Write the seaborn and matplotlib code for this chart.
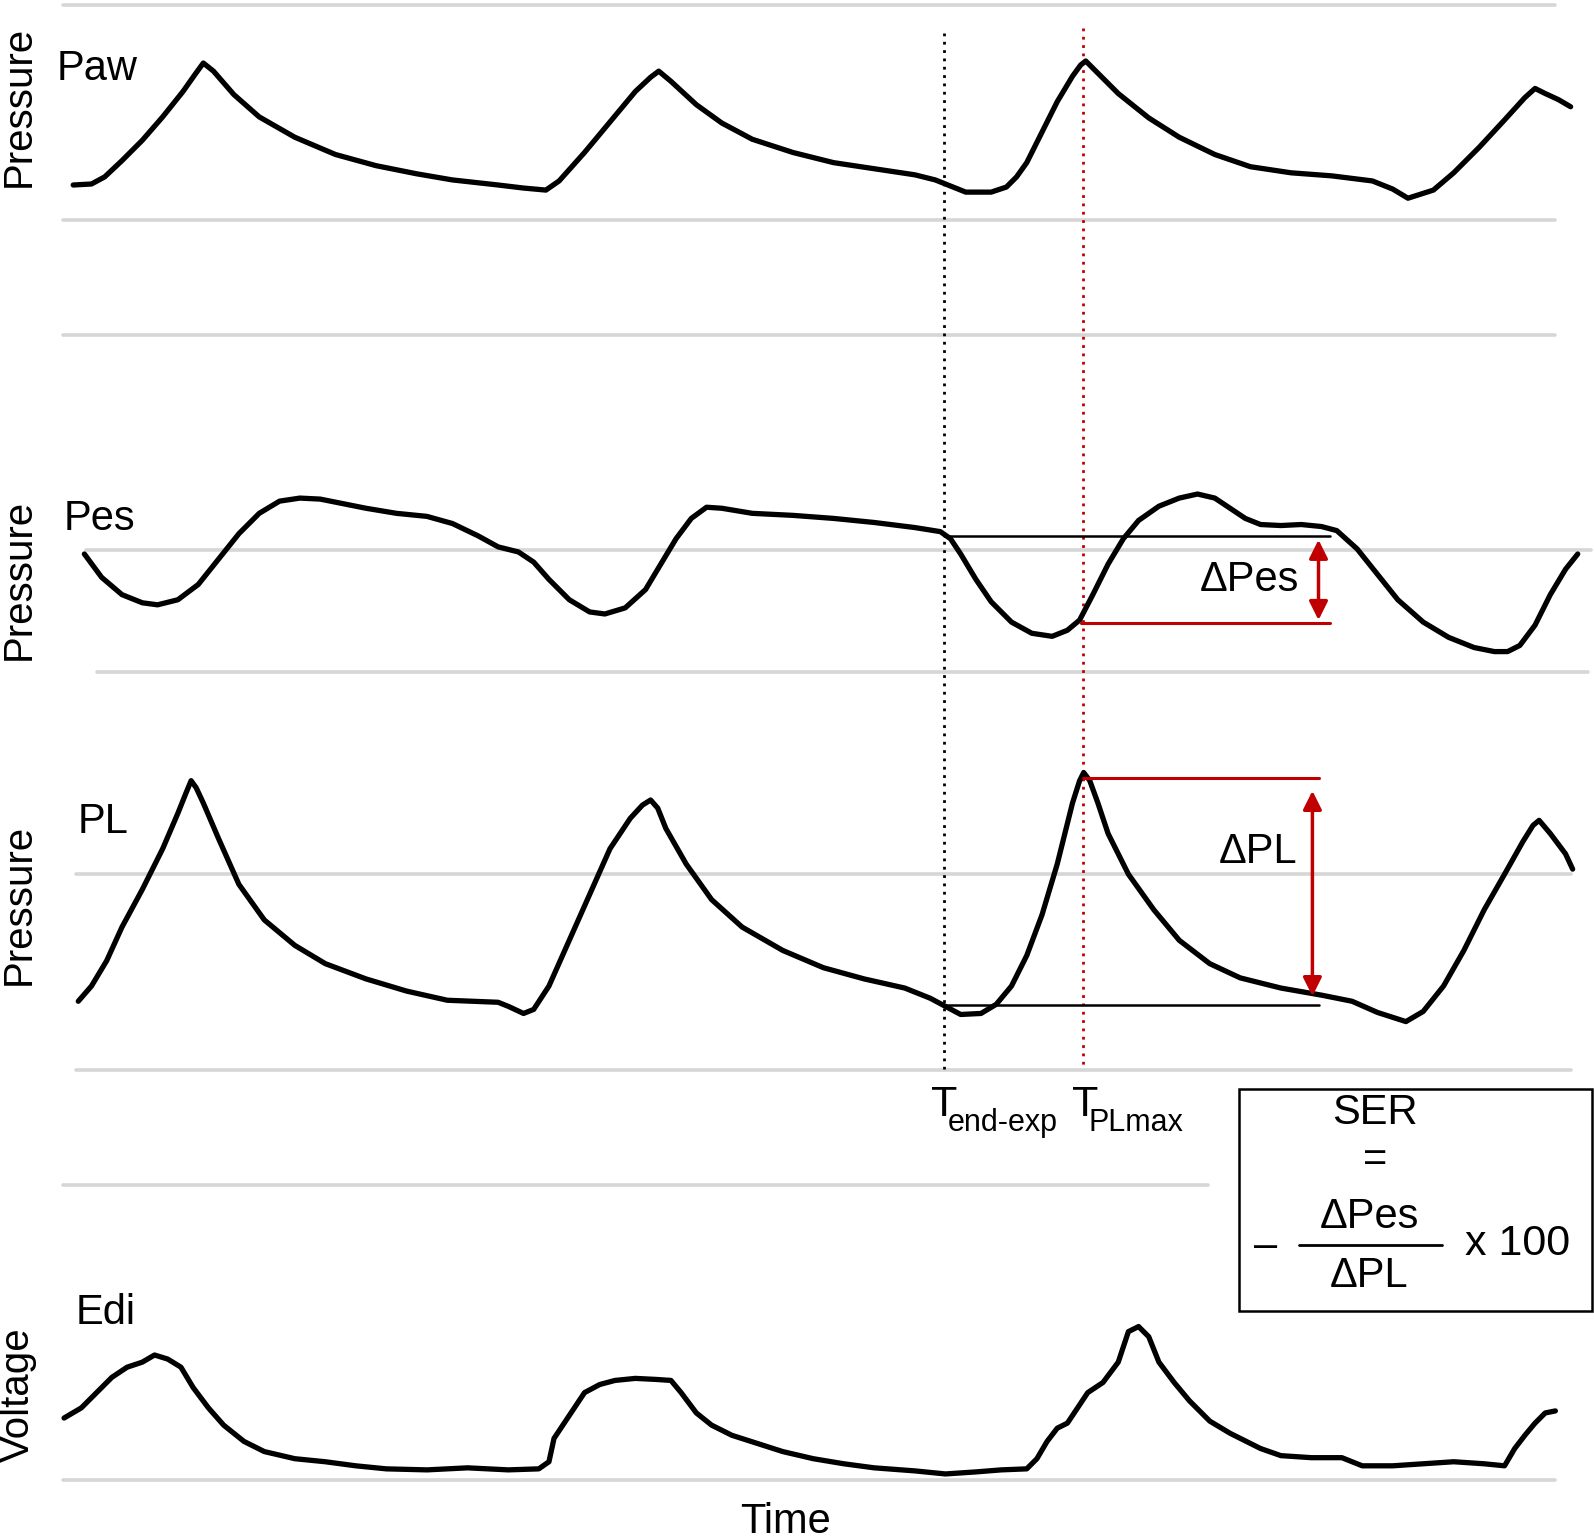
import matplotlib
matplotlib.use("Agg")
import matplotlib.pyplot as plt
import seaborn as sns
import pandas as pd

# waveform samples (time, value in drawing units; y grows downward)
paw_t = [72, 90, 103, 120, 140, 160, 180, 192, 200, 210, 230, 255, 290, 330, 370, 410, 445, 490, 515,
         537, 550, 575, 600, 625, 640, 648, 660, 685, 710, 740, 780, 820, 860, 900, 920, 935, 950,
         975, 990, 1000, 1010, 1025, 1040, 1055, 1063, 1068, 1080, 1100, 1130, 1160, 1195, 1230,
         1270, 1310, 1350, 1370, 1385, 1410, 1430, 1455, 1480, 1500, 1510, 1520, 1533, 1545]
paw_v = [182, 181, 174, 158, 138, 115, 90, 73, 62, 70, 93, 115, 135, 152, 163, 171, 177, 182, 185,
         187, 178, 150, 120, 90, 76, 70, 80, 103, 121, 137, 150, 160, 166, 172, 177, 183, 189,
         189, 184, 174, 160, 130, 100, 75, 64, 60, 72, 92, 116, 135, 152, 164,
         170, 173, 178, 186, 195, 187, 170, 145, 118, 96, 87, 92, 98, 105]

pes_t = [83, 100, 120, 140, 155, 175, 195, 215, 235, 255, 275, 295, 315, 335, 360, 390, 420, 445, 470,
         490, 510, 525, 540, 560, 580, 595, 615, 635, 650, 665, 680, 695, 710, 740, 780, 820, 860,
         900, 925, 935, 945, 960, 975, 995, 1015, 1035, 1050, 1062, 1075, 1090, 1105, 1120, 1140,
         1160, 1178, 1195, 1210, 1225, 1240, 1260, 1280, 1300, 1315, 1335, 1355, 1375, 1400, 1425,
         1450, 1470, 1483, 1495, 1510, 1525, 1540, 1552]
pes_v = [545, 568, 585, 593, 595, 590, 575, 550, 525, 505, 493, 490, 491, 495, 500, 505, 508, 515, 527,
         538, 543, 553, 570, 590, 602, 604, 598, 580, 555, 530, 510, 499, 500, 505, 507, 510, 514,
         519, 523, 530, 545, 570, 592, 612, 623, 626, 620, 610, 585, 555, 530, 512, 498,
         490, 486, 490, 500, 510, 516, 517, 516, 518, 522, 540, 565, 590, 612, 627,
         637, 641, 641, 635, 615, 585, 560, 545]

pl_t = [77, 90, 105, 120, 140, 160, 175, 183, 188, 193, 200, 215, 235, 260, 290, 320, 360, 400, 440,
        490, 500, 515, 525, 540, 560, 580, 600, 620, 632, 640, 647, 655, 675, 700, 730, 770, 810,
        850, 890, 915, 930, 945, 965, 980, 995, 1010, 1025, 1040, 1055, 1062, 1066, 1072, 1080,
        1090, 1110, 1135, 1160, 1190, 1220, 1260, 1300, 1330, 1355, 1383, 1400, 1420, 1440, 1460,
        1480, 1498, 1508, 1514, 1525, 1540, 1547]
pl_v = [985, 970, 945, 912, 875, 835, 800, 780, 768, 775, 790, 825, 870, 905, 930, 948, 963, 975, 984,
        986, 990, 997, 993, 970, 925, 880, 835, 805, 792, 787, 795, 815, 850, 885, 912, 935, 952,
        963, 972, 982, 990, 998, 997, 988, 970, 940, 900, 850, 790, 768, 760, 768, 790,
        820, 860, 895, 925, 948, 962, 972, 979, 985, 996, 1005, 995, 970, 935, 895,
        860, 828, 812, 807, 820, 840, 855]

edi_t = [63, 80, 95, 110, 125, 140, 152, 165, 178, 190, 205, 220, 240, 260, 290, 320, 350, 380, 420,
         460, 500, 530, 540, 545, 555, 565, 575, 590, 605, 625, 645, 660, 670, 685, 700, 720, 745,
         770, 800, 830, 860, 900, 930, 960, 985, 1010, 1020, 1030, 1040, 1050, 1060, 1070, 1085,
         1100, 1110, 1120, 1130, 1140, 1155, 1170, 1190, 1210, 1240, 1260, 1290, 1320, 1340, 1370,
         1400, 1430, 1460, 1480, 1490, 1500, 1510, 1520, 1530]
edi_v = [1395, 1385, 1370, 1355, 1345, 1340, 1333, 1337, 1345, 1365, 1385, 1402, 1418, 1428, 1435, 1438,
         1442, 1445, 1446, 1444, 1446, 1445, 1438, 1415, 1400, 1385, 1370, 1362, 1358, 1356, 1357,
         1358, 1370, 1390, 1402, 1412, 1420, 1428, 1435, 1440, 1444, 1447, 1450, 1448, 1446, 1445,
         1435, 1418, 1405, 1400, 1385, 1370, 1360, 1340, 1310, 1305, 1315, 1340, 1360, 1378, 1398,
         1410, 1425, 1432, 1434, 1434, 1442, 1442, 1440, 1438, 1440, 1442, 1425, 1412, 1400, 1390, 1388]

traces = {"Paw": (paw_t, paw_v), "Pes": (pes_t, pes_v), "PL": (pl_t, pl_v), "Edi": (edi_t, edi_v)}

# baseline grid lines of each strip: (y, x start, x end)
grid_y = [5, 216, 330, 541, 661, 860, 1053, 1166, 1456]
grid_x0 = [62, 62, 62, 85, 95, 75, 75, 62, 62]
grid_x1 = [1530, 1530, 1530, 1565, 1562, 1545, 1545, 1188, 1530]

# event markers
t_end_exp = 929
t_pl_max = 1065
pes_ref, pes_min = 527, 613
pl_ref, pl_max = 989, 765

DARK_RED = "#c00000"

sns.set_style("white")
plt.rcParams["font.family"] = ["Liberation Sans", "DejaVu Sans"]
plt.rcParams["text.color"] = "black"

fig = plt.figure(figsize=(15.94, 15.39), dpi=100)
ax = fig.add_axes([0, 0, 1, 1])

for y, x0, x1 in zip(grid_y, grid_x0, grid_x1):
    ax.plot([x0, x1], [y, y], color="#d6d6d6", lw=2.6, zorder=1)

rows = []
for name, (t, v) in traces.items():
    for ti, vi in zip(t, v):
        rows.append({"trace": name, "time": ti, "value": vi})
df = pd.DataFrame(rows)
sns.lineplot(data=df, x="time", y="value", units="trace", estimator=None, sort=False,
             color="black", lw=3.8, ax=ax, zorder=3)

# vertical event lines
ax.plot([t_end_exp, t_end_exp], [32, 1052], color="black", lw=2, ls=(0, (1, 2)), zorder=2)
ax.plot([t_pl_max, t_pl_max], [28, 1052], color=DARK_RED, lw=2, ls=(0, (1, 2)), zorder=2)

# delta Pes
ax.plot([t_end_exp, 1308], [pes_ref, pes_ref], color="black", lw=1.8, zorder=4)
ax.plot([t_pl_max - 2, 1308], [pes_min, pes_min], color=DARK_RED, lw=2.2, zorder=4)
ax.annotate("", xy=(1297, pes_min - 3), xytext=(1297, pes_ref + 4),
            arrowprops=dict(arrowstyle="<|-|>", color=DARK_RED, lw=2.5, mutation_scale=28,
                            shrinkA=0, shrinkB=0))
ax.text(1278, 571, "ΔPes", fontsize=30, ha="right", va="center")

# delta PL
ax.plot([t_end_exp, 1297], [pl_ref, pl_ref], color="black", lw=1.8, zorder=4)
ax.plot([t_pl_max, 1297], [pl_max, pl_max], color=DARK_RED, lw=2.2, zorder=4)
ax.annotate("", xy=(1291, 980), xytext=(1291, 778),
            arrowprops=dict(arrowstyle="<|-|>", color=DARK_RED, lw=2.5, mutation_scale=28,
                            shrinkA=0, shrinkB=0))
ax.text(1276, 838, "ΔPL", fontsize=30, ha="right", va="center")

# trace names and axis titles
ax.text(56, 68, "Paw", fontsize=30, ha="left", va="center")
ax.text(63, 511, "Pes", fontsize=30, ha="left", va="center")
ax.text(76, 809, "PL", fontsize=30, ha="left", va="center")
ax.text(74, 1292, "Edi", fontsize=30, ha="left", va="center")
for yc, lab in [(105, "Pressure"), (570, "Pressure"), (890, "Pressure"), (1372, "Voltage")]:
    ax.text(18, yc, lab, fontsize=29, rotation=90, ha="center", va="center")
ax.text(773, 1497, "Time", fontsize=30, ha="center", va="center")

# time markers: capital T with a lowered subscript tucked under its bar
for x_t, sub in [(916, "end-exp"), (1055, "PLmax")]:
    ax.text(x_t, 1098, "T", fontsize=31, ha="left", va="baseline")
    ax.text(x_t + 16, 1113, sub, fontsize=22, ha="left", va="baseline")

# SER formula box
ax.add_patch(plt.Rectangle((1219, 1071), 347, 219, fill=False, ec="black", lw=1.8, zorder=4))
ax.text(1352, 1095, "SER", fontsize=30, ha="center", va="center")
ax.text(1353, 1141, "=", fontsize=30, ha="center", va="center")
ax.text(1347, 1197, "ΔPes", fontsize=30, ha="center", va="center")
ax.plot([1278, 1418], [1225, 1225], color="black", lw=2)
ax.text(1347, 1255, "ΔPL", fontsize=30, ha="center", va="center")
ax.text(1245, 1226, "–", fontsize=30, ha="center", va="center")
ax.text(1441, 1224, "x 100", fontsize=31, ha="left", va="center")

ax.set_xlim(0, 1568)
ax.set_ylim(1514, 0)
ax.set_axis_off()

fig.savefig("out.png", dpi=100, facecolor="white")
